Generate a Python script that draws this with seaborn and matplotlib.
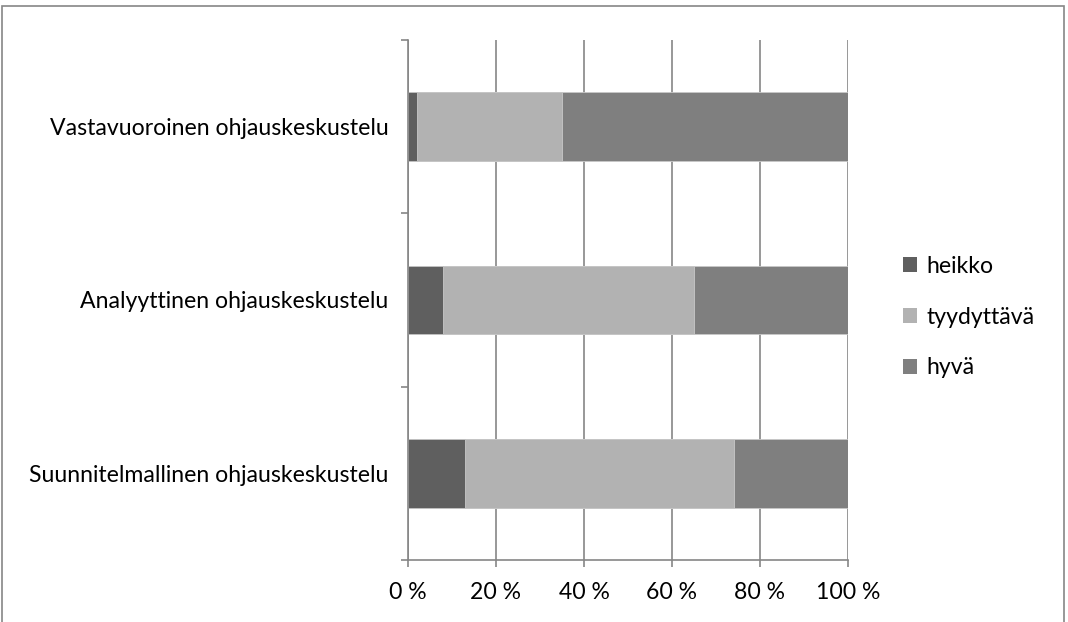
import matplotlib
matplotlib.use("Agg")
import matplotlib.pyplot as plt
from matplotlib.patches import Rectangle, Patch
import numpy as np
import pandas as pd
import seaborn as sns

categories = [
    "Vastavuoroinen ohjauskeskustelu",
    "Analyyttinen ohjauskeskustelu",
    "Suunnitelmallinen ohjauskeskustelu",
]
heikko = [2, 8, 13]
tyydyttava = [33, 57, 61]
hyva = [65, 35, 26]
series_names = ["heikko", "tyydyttävä", "hyvä"]
series_colors = ["#5f5f5f", "#b2b2b2", "#7f7f7f"]
x_ticks = [0, 20, 40, 60, 80, 100]

FS = 16.6

sns.set_style("white")
plt.rcParams["font.family"] = ["Lato", "DejaVu Sans"]
plt.rcParams["text.color"] = "black"
plt.rcParams["xtick.color"] = "#868686"
plt.rcParams["ytick.color"] = "#868686"
plt.rcParams["xtick.labelcolor"] = "black"
plt.rcParams["ytick.labelcolor"] = "black"

df = pd.DataFrame({
    "kategoria": categories,
    "heikko": heikko,
    "tyydyttävä": tyydyttava,
    "hyvä": hyva,
})
cum = df[series_names].cumsum(axis=1)
cum["kategoria"] = df["kategoria"]

fig = plt.figure(figsize=(10.68, 6.22), dpi=100)
ax = fig.add_axes([408 / 1068, 1 - 560 / 622, 440 / 1068, 520 / 622])

# stacked bars: draw cumulative totals from the outermost segment inward
for name, color in reversed(list(zip(series_names, series_colors))):
    sns.barplot(data=cum, x=name, y="kategoria",
                orient="h", color=color, width=0.395, ax=ax,
                edgecolor="#c8c8c8", linewidth=0.6, saturation=1)

ax.set_xlim(0, 100)
ax.set_ylim(2.5, -0.5)
ax.set_xlabel("")
ax.set_ylabel("")
ax.set_xticks(x_ticks)
ax.set_xticklabels([f"{t} %" for t in x_ticks], fontsize=FS)
ax.tick_params(axis="y", which="major", left=False, length=0, pad=14, labelsize=FS)
ax.set_yticks([-0.5, 0.5, 1.5, 2.5], minor=True)
ax.tick_params(axis="y", which="minor", left=True, length=5, direction="out", width=1.2)
ax.tick_params(axis="x", bottom=True, length=5, direction="out", width=1.2, pad=11)

ax.grid(axis="x", color="#868686", linewidth=1.2)
ax.set_axisbelow(True)
for side in ["top", "right"]:
    ax.spines[side].set_visible(False)
for side in ["left", "bottom"]:
    ax.spines[side].set_color("#868686")
    ax.spines[side].set_linewidth(1.2)

handles = [Patch(facecolor=c, edgecolor="none") for c in series_colors]
fig.legend(handles, series_names, loc="center left",
           bbox_to_anchor=(903 / 1068, 1 - 317 / 622), frameon=False,
           fontsize=FS, handlelength=0.62, handleheight=0.62,
           handletextpad=0.4, labelspacing=1.3, borderpad=0, borderaxespad=0)

# outer chart frame
fig.patches.append(Rectangle((2 / 1068, -0.05), 1062 / 1068, 1.05 - 6 / 622,
                             transform=fig.transFigure, fill=False,
                             edgecolor="#868686", linewidth=1.2))

fig.savefig("out.png", dpi=100)
